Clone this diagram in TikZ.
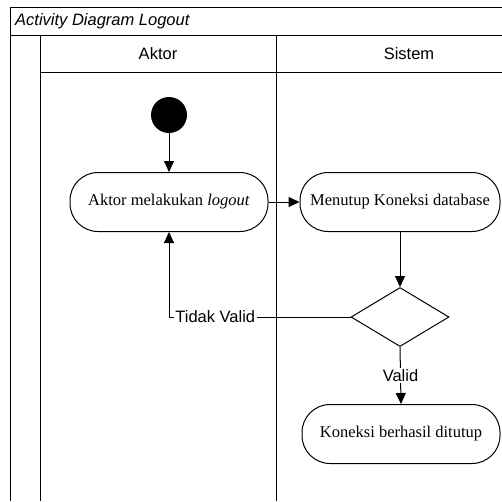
\documentclass[tikz,border=0pt]{standalone}
\usepackage{fontspec}
\setmainfont{Liberation Serif}
\newfontfamily\arial{Liberation Sans}
\usetikzlibrary{arrows.meta,shapes.geometric}
\begin{document}
\begin{tikzpicture}[x=1pt,y=-1pt,
  frame/.style={line width=1pt},
  sans/.style={font=\arial\fontsize{16.5}{19}\selectfont},
  action/.style={draw, line width=1pt, rounded corners=28pt, minimum width=198pt,
    minimum height=59pt, inner sep=0pt, font=\fontsize{16.5}{19}\selectfont},
  flow/.style={line width=1pt, -{Triangle[length=11pt,width=10pt]}},
  lbl/.style={sans, fill=white, inner sep=1.5pt}
]
\useasboundingbox (0,0) rectangle (502,501);
% swimlane frame
\draw[frame] (10,501) -- (10,7) -- (502,7);
\draw[frame] (10,35) -- (502,35);
\draw[frame] (40,72) -- (502,72);
\draw[frame] (40,35) -- (40,501);
\draw[frame] (276,35) -- (276,501);
\node[sans, font=\arial\itshape\fontsize{16.5}{19}\selectfont, anchor=west, inner sep=0pt] (title) at (15,21) {Activity Diagram Logout};
\node[sans] (aktor) at (158,54) {Aktor};
\node[sans] (sistem) at (409,54) {Sistem};

% activities
\node[circle, fill=black, minimum size=36pt, inner sep=0pt] (start) at (169,115) {};
\node[action] (logout) at (169,202) {Aktor melakukan \textit{logout}};
\node[action, minimum width=200pt] (tutup) at (400,202) {Menutup Koneksi database};
\node[diamond, draw, line width=1pt, minimum width=98pt, minimum height=59pt, inner sep=0pt] (cek) at (400,317) {};
\node[action] (selesai) at (401,434) {Koneksi berhasil ditutup};

% flows
\draw[flow] (start) -- (logout);
\draw[flow] (logout) -- (tutup);
\draw[flow] (tutup) -- (cek);
\draw[flow] (cek.south) -- node[lbl] {Valid} (selesai.north);
\draw[flow] (cek.west) -- node[lbl, pos=0.745] {Tidak Valid} (logout.south |- cek.west) -- (logout.south);
\end{tikzpicture}
\end{document}
